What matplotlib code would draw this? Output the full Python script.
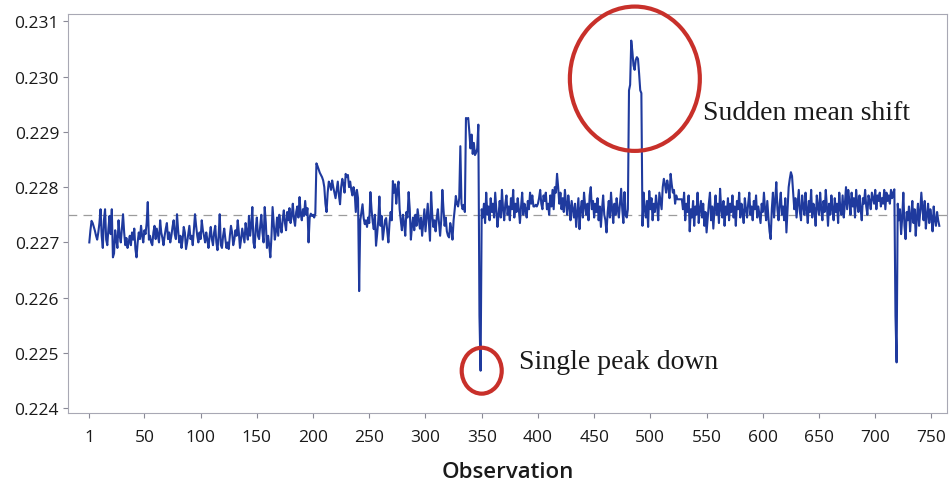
import numpy as np
import matplotlib
matplotlib.use("Agg")
import matplotlib.pyplot as plt
from matplotlib.patches import Ellipse

# values stored as 1e-5 units above 0.22 (e.g. 712 -> 0.22712)
early_run = [
    700, 722, 739, 735, 728, 721, 712, 705, 718, 735, 760, 712, 690, 740, 760, 705, 695, 725, 748, 715,
    760, 673, 680, 722, 705, 690, 740, 712, 700, 725, 751, 718, 695, 708, 690, 700, 712, 695, 718, 705,
    725, 688, 673, 700, 718, 706, 730, 712, 700, 722, 715, 735, 773, 705, 712, 700, 695, 718, 730, 706,
    725, 712, 700, 740, 718, 708, 695, 712, 725, 735, 706, 718, 700, 712, 728, 740, 715, 706, 751, 722,
    700, 712, 690, 705, 728, 718, 688, 700, 715, 730, 706, 712, 695, 722, 751, 730, 712, 700, 718, 706,
    740, 722, 712, 700, 718, 705, 690, 712, 728, 706, 695, 718, 730, 700, 686, 712, 751, 695, 690, 712,
    725, 706, 690, 700, 688, 712, 730, 718, 695, 705, 722, 712, 740, 718, 690, 706, 725, 712, 700, 735,
    718, 705, 748, 712, 730, 764, 700, 690, 725, 745, 712, 706, 730, 750, 718, 700, 764, 735, 690, 712,
    695, 673, 710, 764, 735, 705, 720, 745, 712, 750, 730, 718, 742, 758, 735, 722, 755, 740, 762, 735,
    748, 770, 742, 730, 755, 765, 745, 782, 752, 740, 760, 748, 775, 750, 762, 700, 745, 752, 748, 750,
    745, 752,
]
step_up = [
    843, 838, 832, 826, 822, 818, 812, 800, 770, 755, 790, 810, 805, 795, 812, 800, 790, 780,
    795, 810, 785, 769, 800, 815, 805, 790, 824, 818, 822, 800, 810, 795, 785, 800, 790, 755, 795, 780,
    612,
]
middle_run = [
    740, 755, 769, 744, 733, 740, 728, 745, 735, 791, 760, 738, 724, 750, 694, 715, 740, 783, 730,
    748, 705, 722, 740, 744, 720, 700, 735, 755, 740, 811, 790, 805, 770, 795, 810, 760, 740, 722, 750,
    735, 712, 755, 745, 791, 760, 705, 730, 745, 722, 750, 730, 760, 742, 725, 745, 712, 735, 760, 720,
    745, 770, 735, 703, 791, 750, 728, 740, 720, 745, 760, 735, 712, 740, 795, 760, 730, 745, 720, 712,
    709, 735, 725, 705, 740, 760, 784, 770, 765, 780,
]
block_and_dip = [
    874, 770, 760, 768, 755, 925, 924, 925, 900, 870,
    895, 860, 880, 858, 862, 870, 913, 567, 468,
]
late_run = [
    760, 745, 770, 735, 790, 750, 765, 740, 780, 755, 770, 745, 790, 760, 728, 750, 775, 745, 795, 760, 740,
    770, 785, 750, 765, 740, 780, 760, 795, 745, 770, 755, 780, 760, 735, 765, 790, 750, 770, 760, 745,
    775, 760, 790, 770, 785, 765, 765, 768, 765, 770, 780, 795, 770, 760, 785, 775, 790, 760, 770, 750,
    785, 765, 795, 760, 800, 790, 824, 800, 770, 790, 760, 780, 755, 795, 770, 750, 785, 765, 740, 775,
    760, 745, 770, 728, 755, 780, 724, 760, 775, 745, 790, 765, 750, 770, 740, 785, 800, 760, 775, 745,
    770, 755, 780, 740, 765, 728, 760, 785, 750, 740, 718, 755, 775, 745, 790, 760, 735, 770, 750, 780,
    760, 745, 770, 797, 760, 735, 791, 750, 745, 760,
]
mean_shift = [975, 985, 1065, 1045, 1020, 1012, 1030, 1035, 1032, 1005, 975, 970, 730]
final_run = [
    790, 760, 745, 775, 728, 793, 760, 780, 740, 770, 755, 785, 765, 740, 790, 775, 760,
    800, 815, 805, 790, 812, 800, 780, 824, 805, 790, 795, 770, 785, 778, 778, 778, 778, 778, 760, 790,
    740, 770, 755, 785, 720, 760, 745, 775, 730, 765, 750, 790, 735, 760, 775, 745, 770, 730, 755, 718,
    745, 770, 790, 740, 765, 725, 760, 785, 750, 770, 735, 797, 760, 745, 775, 730, 765, 750, 780, 740,
    770, 755, 785, 745, 765, 730, 775, 760, 790, 745, 770, 755, 735, 780, 760, 745, 770, 790, 750, 765,
    740, 775, 760, 785, 745, 765, 750, 735, 770, 755, 790, 760, 740, 775, 745, 720, 706, 760, 790, 745,
    775, 809, 760, 740, 770, 790, 750, 765, 740, 780, 718, 760, 800, 815, 827, 820, 790, 760, 780, 745,
    770, 795, 755, 740, 785, 765, 750, 790, 760, 735, 775, 755, 795, 745, 770, 760, 730, 785, 765, 750,
    790, 760, 740, 775, 755, 795, 765, 730, 770, 750, 785, 760, 740, 780, 755, 770, 735, 790, 760, 750,
    785, 745, 770, 800, 760, 795, 775, 750, 790, 765, 780, 745, 795, 770, 755, 785, 760, 740, 780, 770,
    795, 765, 750, 785, 775, 760, 790, 780, 770, 795, 760, 785, 775, 790, 765, 780, 770, 795, 760, 790,
    775, 785, 770, 795, 780, 790, 796, 567, 483, 770,
    740, 760, 715, 745, 790, 730, 706, 755, 740, 765, 720, 750, 775, 735, 760, 712, 745, 770, 730, 755,
    790, 760, 740, 775, 725, 750, 770, 735, 760, 745, 720, 765, 740, 730, 755, 740, 730,
]

target_mean = 0.2275
x_ticks = [1, 50, 100, 150, 200, 250, 300, 350, 400, 450, 500, 550, 600, 650, 700, 750]
y_ticks = [0.224, 0.225, 0.226, 0.227, 0.228, 0.229, 0.230, 0.231]


def main():
    raw = early_run + step_up + middle_run + block_and_dip + late_run + mean_shift + final_run
    y = 0.22 + np.array(raw) / 1e5
    x = np.arange(1, len(y) + 1)

    fig = plt.figure(figsize=(9.51, 4.85), dpi=100)
    ax = fig.add_axes([0.0718, 0.1458, 0.9242, 0.8232])

    ax.axhline(target_mean, color='#9c9c9c', lw=0.9, dashes=(7, 5), zorder=1)
    ax.plot(x, y, color='#1f3a9e', lw=1.5, zorder=2)

    ax.set_xlim(-17.7, 764)
    ax.set_ylim(0.22391, 0.23113)
    ax.set_xticks(x_ticks)
    ax.set_yticks(y_ticks)
    ax.set_yticklabels([f'{t:.3f}' for t in y_ticks])

    for s in ax.spines.values():
        s.set_color('#a8a8b4')
        s.set_linewidth(0.8)
    ax.tick_params(axis='both', colors='#8a8a96', length=3.6, width=0.8,
                   labelcolor='#1a1a1a', labelsize=12.5)
    ax.tick_params(axis='x', pad=8)
    ax.tick_params(axis='y', pad=3)
    for lab in ax.get_xticklabels() + ax.get_yticklabels():
        lab.set_family('Open Sans')
        lab.set_weight('medium')

    ax.set_xlabel('Observation', family='Open Sans', fontsize=16,
                  weight='semibold', color='#1a1a1a', labelpad=11)

    red = '#c8302a'
    ax.add_patch(Ellipse((486.2, 0.22996), 115.6, 0.00261, fill=False,
                         ec=red, lw=3, clip_on=False, zorder=3))
    i_min = int(np.argmin(y))
    ax.add_patch(Ellipse((x[i_min] + 1, y[i_min]), 35.6, 0.00083, fill=False,
                         ec=red, lw=3, clip_on=False, zorder=3))

    ax.text(546.6, 0.22935, 'Sudden mean shift', family='Liberation Serif',
            fontsize=20, color='#1a1a1a', va='center', ha='left')
    ax.text(383, 0.224855, 'Single peak down', family='Liberation Serif',
            fontsize=20, color='#1a1a1a', va='center', ha='left')

    fig.savefig('out.png', dpi=100)


if __name__ == '__main__':
    main()
